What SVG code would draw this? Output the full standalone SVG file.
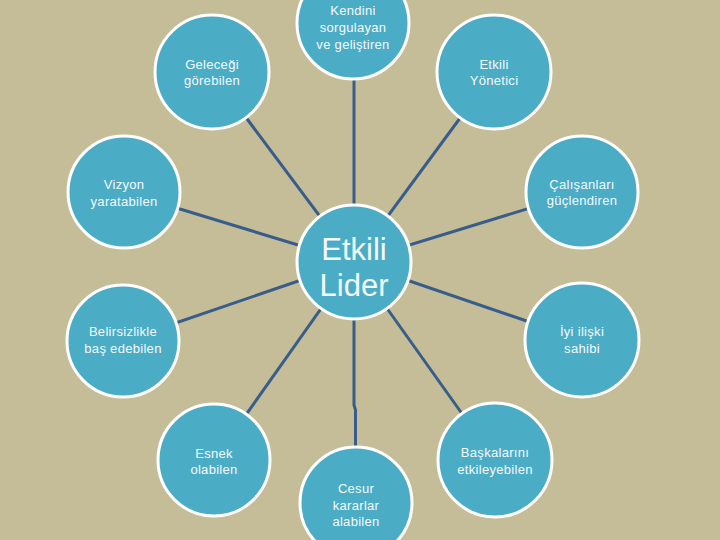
<svg xmlns="http://www.w3.org/2000/svg" width="720" height="540" viewBox="0 0 720 540">
<style>
.c{fill:#4bacc6;stroke:#ffffff;stroke-width:3}
.t{font-family:"Liberation Sans",Arial,sans-serif;font-size:13px;fill:#f4fafc;text-anchor:middle;letter-spacing:0.3px}
.big{font-family:"Liberation Sans",Arial,sans-serif;font-size:31px;fill:#f4fafc;text-anchor:middle}
.l{stroke:#385d8a;stroke-width:3;fill:none}
</style>
<rect width="720" height="540" fill="#c4bd97"/>
<g id="connectors">
<line class="l" x1="354" y1="262" x2="354" y2="23"/>
<line class="l" x1="354" y1="262" x2="212" y2="72"/>
<line class="l" x1="354" y1="262" x2="494" y2="72"/>
<line class="l" x1="354" y1="262" x2="124" y2="192"/>
<line class="l" x1="354" y1="262" x2="582" y2="192"/>
<line class="l" x1="354" y1="262" x2="123" y2="341"/>
<line class="l" x1="354" y1="262" x2="582" y2="340"/>
<line class="l" x1="354" y1="262" x2="214" y2="460"/>
<polyline class="l" points="354,262 354,405 355.5,410 355.5,503"/>
<line class="l" x1="354" y1="262" x2="495" y2="460"/>
</g>
<g id="n-kendini"><circle class="c" cx="353" cy="23" r="56"/>
<text class="t" x="353" y="15">Kendini</text><text class="t" x="353" y="32">sorgulayan</text><text class="t" x="353" y="49">ve geliştiren</text></g>
<g id="n-gelecegi"><circle class="c" cx="212" cy="72" r="57"/>
<text class="t" x="212" y="69">Geleceği</text><text class="t" x="212" y="85">görebilen</text></g>
<g id="n-yonetici"><circle class="c" cx="494" cy="72" r="57"/>
<text class="t" x="494" y="69">Etkili</text><text class="t" x="494" y="85">Yönetici</text></g>
<g id="n-vizyon"><circle class="c" cx="124" cy="192" r="56"/>
<text class="t" x="124" y="189">Vizyon</text><text class="t" x="124" y="206">yaratabilen</text></g>
<g id="n-calisanlari"><circle class="c" cx="582" cy="192" r="56"/>
<text class="t" x="582" y="189">Çalışanları</text><text class="t" x="582" y="205">güçlendiren</text></g>
<g id="n-belirsizlikle"><circle class="c" cx="123" cy="341" r="56"/>
<text class="t" x="123" y="336">Belirsizlikle</text><text class="t" x="123" y="353">baş edebilen</text></g>
<g id="n-iliski"><circle class="c" cx="582" cy="340" r="57"/>
<text class="t" x="582" y="336">İyi ilişki</text><text class="t" x="582" y="353">sahibi</text></g>
<g id="n-esnek"><circle class="c" cx="214" cy="460" r="56"/>
<text class="t" x="214" y="458">Esnek</text><text class="t" x="214" y="474">olabilen</text></g>
<g id="n-cesur"><circle class="c" cx="356" cy="503" r="56"/>
<text class="t" x="356" y="493">Cesur</text><text class="t" x="356" y="510">kararlar</text><text class="t" x="356" y="526">alabilen</text></g>
<g id="n-baskalarini"><circle class="c" cx="495" cy="460" r="57"/>
<text class="t" x="495" y="457">Başkalarını</text><text class="t" x="495" y="474">etkileyebilen</text></g>
<g id="n-lider"><circle class="c" cx="354" cy="262" r="57"/>
<text class="big" x="354" y="260">Etkili</text><text class="big" x="354" y="296">Lider</text></g>
</svg>
